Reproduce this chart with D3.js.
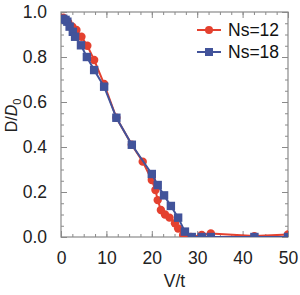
<!DOCTYPE html>
<html>
<head>
<meta charset="utf-8">
<script src="https://cdn.jsdelivr.net/npm/d3@7"></script>
<style>
  body { margin: 0; background: #fff; }
  text { font-family: "Liberation Sans", Arial, sans-serif; }
</style>
</head>
<body>
<div id="chart"></div>
<script>
// Ns=12 (cercles rouges)
const vNs12 = [0.5, 1, 1.6, 2.5, 3.4, 4.5, 5.8, 7.3, 9.5, 12.2, 15.6, 18, 20, 20.8, 21.3, 22, 22.9, 23.9, 25.1, 25.8, 26.9, 28.6, 31, 33, 42.6, 50];
const dNs12 = [0.975, 0.965, 0.953, 0.935, 0.92, 0.89, 0.85, 0.787, 0.68, 0.53, 0.41, 0.335, 0.253, 0.209, 0.164, 0.12, 0.1, 0.086, 0.061, 0.038, 0.009, 0, 0.009, 0.016, 0.004, 0.011];
// Ns=18 (carrés bleus)
const vNs18 = [0.5, 1, 1.4, 1.9, 2.6, 3.1, 4.4, 5.7, 7.3, 9.5, 12.2, 15.6, 20, 21.3, 22.7, 24.2, 25.8, 27.3, 28.8, 31, 33, 42.6, 50];
const dNs18 = [0.97, 0.965, 0.957, 0.935, 0.912, 0.89, 0.852, 0.8, 0.742, 0.668, 0.53, 0.41, 0.28, 0.231, 0.185, 0.138, 0.086, 0.024, 0, 0, 0, 0, 0];

const xTicks = [0, 10, 20, 30, 40, 50];
const yTicks = [0, 0.2, 0.4, 0.6, 0.8, 1.0];

const red = "#e4412f";
const blue = "#42539a";
const frameColor = "#8a8a8a";

const width = 300, height = 295;
const margin = { top: 12, right: 12, bottom: 58, left: 61 };
const w = width - margin.left - margin.right;
const h = height - margin.top - margin.bottom;

const svg = d3.select("#chart").append("svg")
  .attr("width", width).attr("height", height);

const g = svg.append("g")
  .attr("transform", "translate(" + margin.left + "," + margin.top + ")");

const x = d3.scaleLinear().domain([0, 50]).range([0, w]);
const y = d3.scaleLinear().domain([0, 1]).range([h, 0]);

// clip
svg.append("defs").append("clipPath").attr("id", "clip")
  .append("rect").attr("width", w).attr("height", h);

// graduations mineures
const xMinor = d3.range(0, 50.01, 2.5);
const yMinor = d3.range(0, 1.001, 0.05);

function tickAxes(axisFn, scale, ticks, size) {
  return axisFn(scale).tickValues(ticks).tickSizeInner(-size).tickSizeOuter(0)
    .tickFormat("");
}

const axes = g.append("g").attr("class", "axes");
// bas
axes.append("g").attr("transform", "translate(0," + h + ")")
  .call(tickAxes(d3.axisBottom, x, xMinor, 3));
axes.append("g").attr("transform", "translate(0," + h + ")")
  .call(d3.axisBottom(x).tickValues(xTicks).tickSizeInner(-6).tickSizeOuter(0)
    .tickPadding(15).tickFormat(d3.format("d")));
// haut
axes.append("g").call(tickAxes(d3.axisTop, x, xMinor, 3));
axes.append("g").call(tickAxes(d3.axisTop, x, xTicks, 6));
// gauche
axes.append("g").call(tickAxes(d3.axisLeft, y, yMinor, 3));
axes.append("g")
  .call(d3.axisLeft(y).tickValues(yTicks).tickSizeInner(-6).tickSizeOuter(0)
    .tickPadding(14).tickFormat(d3.format(".1f")));
// droite
axes.append("g").attr("transform", "translate(" + w + ",0)")
  .call(tickAxes(d3.axisRight, y, yMinor, 3));
axes.append("g").attr("transform", "translate(" + w + ",0)")
  .call(tickAxes(d3.axisRight, y, yTicks, 6));

axes.selectAll(".domain").remove();
axes.selectAll("line").attr("stroke", frameColor).attr("stroke-width", 1);
axes.selectAll("text").attr("font-size", 17.5).attr("fill", "#222")
  .attr("font-family", "Liberation Sans, Arial, sans-serif");

// cadre
g.append("rect").attr("width", w).attr("height", h)
  .attr("fill", "none").attr("stroke", frameColor).attr("stroke-width", 1.2);

// séries
const s12 = vNs12.map((v, i) => [v, dNs12[i]]);
const s18 = vNs18.map((v, i) => [v, dNs18[i]]);
const line = d3.line().x(d => x(d[0])).y(d => y(d[1]));

const plot = g.append("g").attr("clip-path", "url(#clip)");

plot.append("path").datum(s12).attr("d", line)
  .attr("fill", "none").attr("stroke", red).attr("stroke-width", 2);
plot.selectAll(".pt12").data(s12).enter().append("circle")
  .attr("cx", d => x(d[0])).attr("cy", d => y(d[1])).attr("r", 4.2)
  .attr("fill", red);

plot.append("path").datum(s18).attr("d", line)
  .attr("fill", "none").attr("stroke", blue).attr("stroke-width", 2);
plot.selectAll(".pt18").data(s18).enter().append("rect")
  .attr("x", d => x(d[0]) - 4.2).attr("y", d => y(d[1]) - 4.2)
  .attr("width", 8.4).attr("height", 8.4).attr("fill", blue);

// légende
const legend = g.append("g");
const items = [
  { label: "Ns=12", color: red, shape: "circle" },
  { label: "Ns=18", color: blue, shape: "square" }
];
items.forEach((it, i) => {
  const ly = 18 + i * 22;
  const lg = legend.append("g").attr("transform", "translate(136," + ly + ")");
  lg.append("line").attr("x1", 0).attr("x2", 24).attr("stroke", it.color).attr("stroke-width", 2);
  if (it.shape === "circle") {
    lg.append("circle").attr("cx", 12).attr("r", 4).attr("fill", it.color);
  } else {
    lg.append("rect").attr("x", 8).attr("y", -4).attr("width", 8).attr("height", 8).attr("fill", it.color);
  }
  lg.append("text").attr("x", 31).attr("y", 6).attr("font-size", 17.5).attr("fill", "#111")
    .text(it.label);
});

// titres des axes
svg.append("text").attr("x", margin.left + w / 2).attr("y", 287)
  .attr("text-anchor", "middle").attr("font-size", 17.5).attr("fill", "#222").text("V/t");

const yl = svg.append("text")
  .attr("transform", "translate(17," + (margin.top + h / 2 - 9) + ") rotate(-90)")
  .attr("text-anchor", "middle").attr("font-size", 16).attr("fill", "#222");
yl.append("tspan").text("D/");
yl.append("tspan").attr("font-style", "italic").text("D");
yl.append("tspan").attr("font-size", 11).attr("dy", 4).text("0");
</script>
</body>
</html>
